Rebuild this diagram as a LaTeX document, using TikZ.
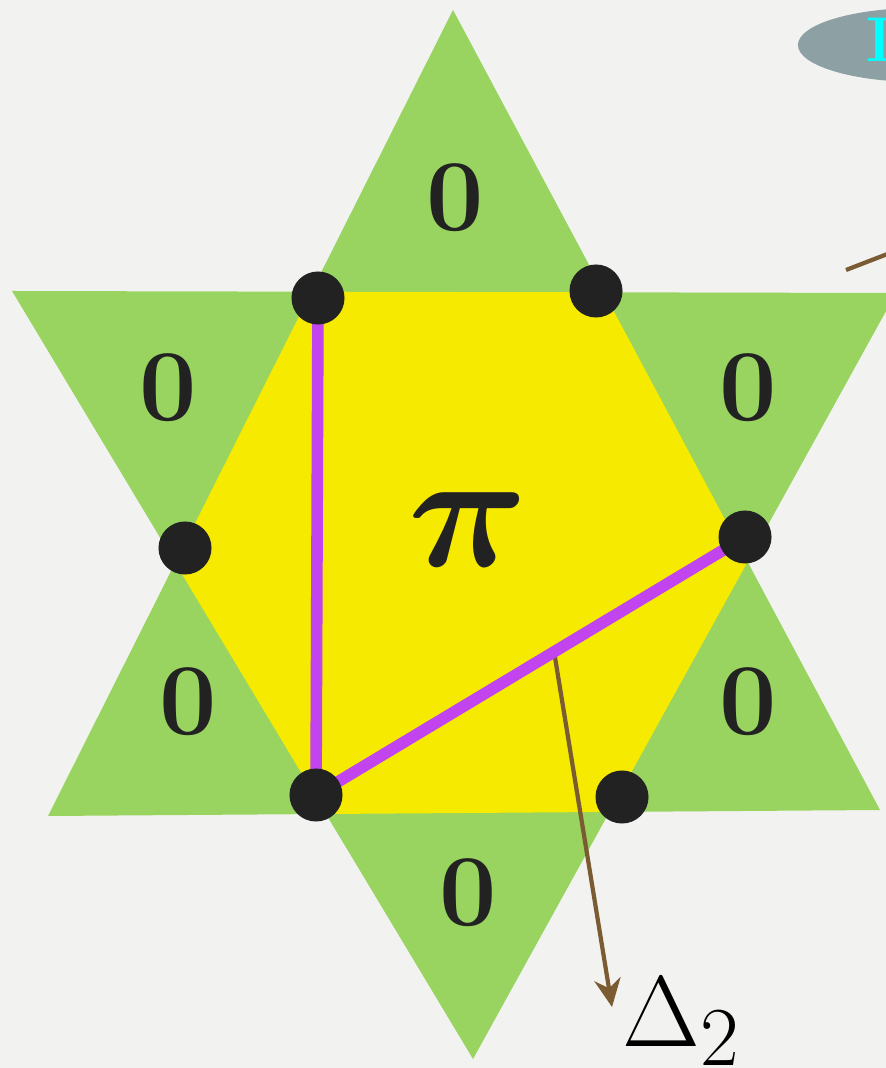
\documentclass[tikz,border=0pt]{standalone}
\usepackage{amsmath,bm}
\usetikzlibrary{arrows.meta,shapes.geometric,calc}
\definecolor{paper}{HTML}{F2F2F1}
\definecolor{leafgreen}{HTML}{98D45F}
\definecolor{sunyellow}{HTML}{F5EA00}
\definecolor{inkgray}{HTML}{222222}
\definecolor{chordpurple}{HTML}{C244EE}
\definecolor{pointerbrown}{HTML}{7B5B32}
\definecolor{tagslate}{HTML}{8DA1A4}
\definecolor{tagcyan}{HTML}{00FFFF}
\begin{document}
\begin{tikzpicture}[
    x=0.01cm, y=-0.01cm,
    >=Stealth,
    dot/.style={
        circle,
        fill=inkgray,
        inner sep=0pt,
        minimum size=0.53cm
    },
    zero/.style={
        text=inkgray,
        font=\fontsize{29}{32}\selectfont\bfseries
    },
    chord/.style={line width=3.3pt, draw=chordpurple},
    pointer/.style={->, line width=1.2pt, draw=pointerbrown,
        >={Stealth[length=8pt, width=7.5pt]}}
]
    \useasboundingbox[fill=paper] (0,0) rectangle (886,1068);

    % the two triangles of the star
    \coordinate (upTop) at (453,10);
    \coordinate (upLeft) at (48,816);
    \coordinate (upRight) at (880,810);
    \coordinate (downLeft) at (12,291);
    \coordinate (downRight) at (896,293);
    \coordinate (downBottom) at (473,1059);

    \fill[leafgreen] (upTop) -- (upLeft) -- (upRight) -- cycle;
    \fill[leafgreen] (downLeft) -- (downRight) -- (downBottom) -- cycle;

    \begin{scope}
        \clip (upTop) -- (upLeft) -- (upRight) -- cycle;
        \fill[sunyellow] (downLeft) -- (downRight) -- (downBottom) -- cycle;
    \end{scope}

    \node[zero] (z1) at (455,198) {0};
    \node[zero] (z2) at (168,388) {0};
    \node[zero] (z3) at (748,388) {0};
    \node[zero] (z4) at (188,702) {0};
    \node[zero] (z5) at (748,702) {0};
    \node[zero] (z6) at (468,893) {0};

    \node[text=inkgray, font=\Huge] (angle) at (468,530)
        {\scalebox{1.9}{$\boldsymbol{\pi}$}};

    % corners of the hexagon
    \coordinate (v1) at (318,298);
    \coordinate (v2) at (596,291);
    \coordinate (v3) at (745,537);
    \coordinate (v4) at (622,797);
    \coordinate (v5) at (316,795);
    \coordinate (v6) at (185,548);

    \coordinate (foot) at ($(v5)!0.555!(v3)$);
    \node[anchor=base west, inner sep=0pt, font=\Huge] (delta) at (622,1046)
        {\scalebox{1.15}{$\Delta_2$}};
    \coordinate (tip) at (612,1007);
    \draw[pointer] (foot) -- (tip);

    \draw[chord] (v1) -- (v5);
    \draw[chord] (v5) -- (v3);

    \foreach \v in {v1,v2,v3,v4,v5,v6}
        \node[dot] (d\v) at (\v) {};

    % cut-off tag in the corner
    \node[ellipse, fill=tagslate, minimum width=2.44cm, minimum height=0.74cm,
        inner sep=0pt] (tag) at (920,45) {};
    \node[anchor=base west, inner sep=0pt, text=tagcyan,
        font=\fontsize{18}{20}\selectfont\bfseries] (tagtext) at (866,62) {I};
    \coordinate (lead) at (846,270);
    \coordinate (away) at (960,226);
    \draw[line width=1.2pt, draw=pointerbrown] (lead) -- (away);
\end{tikzpicture}
\end{document}
